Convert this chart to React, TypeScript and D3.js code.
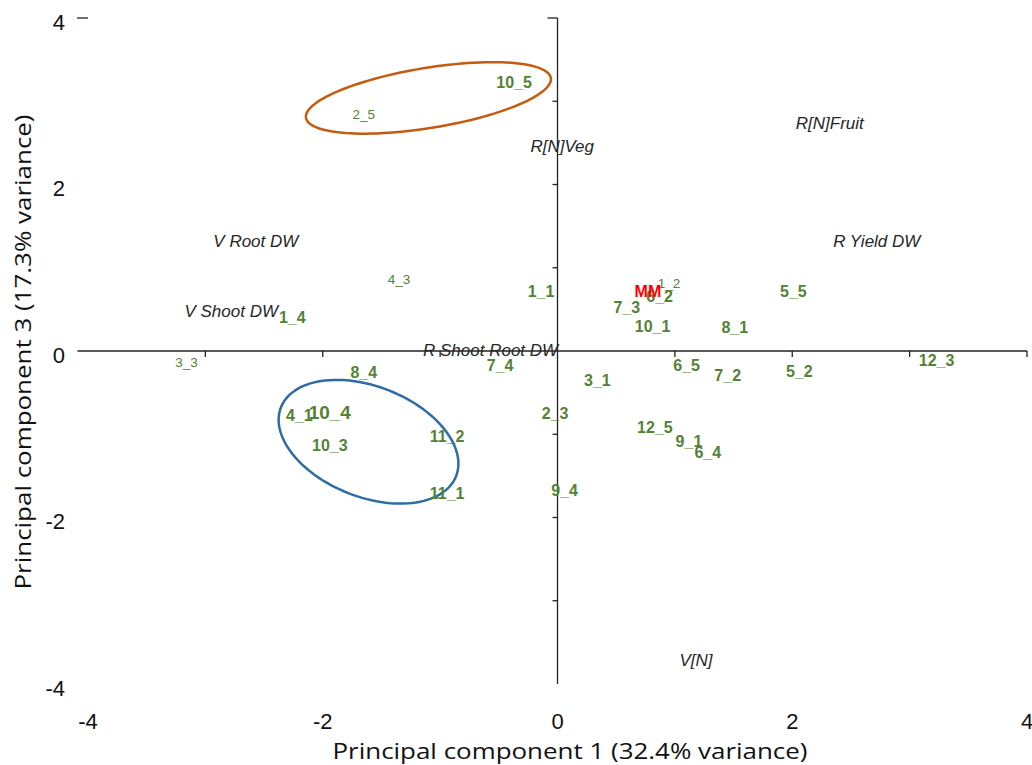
import * as d3 from "d3";

// sample scores (PC1, PC3)
const sampleIds = [
  "10_5", "2_5", "4_3", "1_1", "1_4", "3_3", "8_4", "7_4", "3_1", "4_1",
  "10_4", "10_3", "11_2", "11_1", "2_3", "9_4", "1_2", "6_2", "7_3", "10_1",
  "8_1", "5_5", "6_5", "7_2", "5_2", "12_3", "12_5", "9_1", "6_4",
];
const samplePc1 = [
  -0.37, -1.65, -1.35, -0.14, -2.26, -3.16, -1.65, -0.49, 0.34, -2.2,
  -1.94, -1.94, -0.94, -0.94, -0.02, 0.06, 0.95, 0.87, 0.59, 0.81,
  1.51, 2.01, 1.1, 1.45, 2.06, 3.23, 0.83, 1.12, 1.28,
];
const samplePc3 = [
  3.22, 2.84, 0.86, 0.72, 0.4, -0.14, -0.26, -0.18, -0.35, -0.78,
  -0.74, -1.13, -1.03, -1.71, -0.75, -1.68, 0.81, 0.65, 0.52, 0.29,
  0.28, 0.72, -0.18, -0.3, -0.25, -0.12, -0.92, -1.09, -1.22,
];
// label class: 0 small, 1 normal, 2 large
const sampleClass = [
  1, 0, 0, 1, 1, 0, 1, 1, 1, 1,
  2, 1, 1, 1, 1, 1, 0, 1, 1, 1,
  1, 1, 1, 1, 1, 1, 1, 1, 1,
];

const refIds = ["MM"];
const refPc1 = [0.77];
const refPc3 = [0.71];

// variable loadings
const varNames = ["R[N]Veg", "R[N]Fruit", "V Root DW", "R Yield DW", "V Shoot DW", "R Shoot Root DW", "V[N]"];
const varPc1 = [0.04, 2.32, -2.57, 2.72, -2.78, -0.57, 1.18];
const varPc3 = [2.46, 2.73, 1.32, 1.32, 0.48, 0.01, -3.72];

// group ellipses: centre, major and minor half-axis vectors (data units)
const ellipseCx = [-1.1, -1.61];
const ellipseCy = [3.04, -1.09];
const ellipseU = [[1.043, 0.24], [0.746, -0.414]];
const ellipseV = [[0.043, -0.356], [-0.173, -0.617]];
const ellipseColors = ["#c55a11", "#2e6ca4"];

const xTicks = [-4, -2, 0, 2, 4];
const yTicks = [4, 2, 0, -2, -4];
const xMinor = [-3, -2, -1, 1, 2, 3, 4];
const yMinor = [3, 2, 1, -1, -2, -3];

const width = 1032;
const height = 765;

export default function App() {
  const x = d3.scaleLinear([-4, 4], [88, 1027]);
  const y = d3.scaleLinear([-4, 4], [684, 18]);
  const fontSize = d3.scaleOrdinal<number, number>([0, 1, 2], [13.5, 16, 19]);
  const fontWeight = d3.scaleOrdinal<number, string>([0, 1, 2], ["normal", "bold", "bold"]);

  const line = d3
    .line<[number, number]>()
    .x((d) => x(d[0]))
    .y((d) => y(d[1]))
    .curve(d3.curveLinearClosed);

  const ellipsePath = (i: number) => {
    const pts: [number, number][] = d3.range(120).map((k) => {
      const t = (k / 120) * Math.PI * 2;
      return [
        ellipseCx[i] + Math.cos(t) * ellipseU[i][0] + Math.sin(t) * ellipseV[i][0],
        ellipseCy[i] + Math.cos(t) * ellipseU[i][1] + Math.sin(t) * ellipseV[i][1],
      ];
    });
    return line(pts) || "";
  };

  const font = "'Liberation Sans', Arial, sans-serif";

  return (
    <svg
      width={width}
      height={height}
      style={{ position: "absolute", left: 0, top: 0, background: "#fff" }}
      fontFamily={font}
    >
      {/* axes through origin */}
      <g stroke="#222" strokeWidth={1.3}>
        <line x1={x(-4.09)} x2={x(4)} y1={y(0)} y2={y(0)} />
        <line x1={x(0)} x2={x(0)} y1={y(4)} y2={y(-4)} />
        {xMinor.map((t) => (
          <line key={"xm" + t} x1={x(t)} x2={x(t)} y1={y(0)} y2={y(0) + 6} />
        ))}
        {yMinor.map((t) => (
          <line key={"ym" + t} x1={x(0) - 5} x2={x(0)} y1={y(t)} y2={y(t)} />
        ))}
        <line x1={x(0) - 10} x2={x(0)} y1={y(4)} y2={y(4)} />
        <line x1={77} x2={88} y1={y(4)} y2={y(4)} />
      </g>

      {/* tick labels */}
      <g fontSize={22} fill="#111">
        {yTicks.map((t) => (
          <text key={"yt" + t} x={65} y={y(t) + 4} textAnchor="end" dominantBaseline="central">
            {t}
          </text>
        ))}
        {xTicks.map((t) => (
          <text key={"xt" + t} x={x(t)} y={721} textAnchor="middle" dominantBaseline="central">
            {t}
          </text>
        ))}
      </g>

      {/* axis titles */}
      <text
        x={570}
        y={750}
        textAnchor="middle"
        dominantBaseline="central"
        fontFamily="'Open Sans', sans-serif"
        fontSize={22}
        fill="#111"
        textLength={475}
        lengthAdjust="spacingAndGlyphs"
      >
        Principal component 1 (32.4% variance)
      </text>
      <text
        transform={`translate(22,352) rotate(-90)`}
        textAnchor="middle"
        dominantBaseline="central"
        fontFamily="'Open Sans', sans-serif"
        fontSize={22}
        fill="#111"
        textLength={475}
        lengthAdjust="spacingAndGlyphs"
      >
        Principal component 3 (17.3% variance)
      </text>

      {/* ellipses */}
      {ellipseColors.map((c, i) => (
        <path key={"el" + i} d={ellipsePath(i)} fill="none" stroke={c} strokeWidth={2.5} />
      ))}

      {/* loadings */}
      <g fontSize={17} fontStyle="italic" fill="#262626">
        {varNames.map((n, i) => (
          <text key={n} x={x(varPc1[i])} y={y(varPc3[i])} textAnchor="middle" dominantBaseline="central">
            {n}
          </text>
        ))}
      </g>

      {/* samples */}
      <g fill="#548235">
        {sampleIds.map((s, i) => (
          <text
            key={s}
            x={x(samplePc1[i])}
            y={y(samplePc3[i])}
            textAnchor="middle"
            dominantBaseline="central"
            fontSize={fontSize(sampleClass[i])}
            fontWeight={fontWeight(sampleClass[i])}
          >
            {s}
          </text>
        ))}
      </g>
      <g fill="#ff0000" fontWeight="bold" fontSize={16}>
        {refIds.map((s, i) => (
          <text key={s} x={x(refPc1[i])} y={y(refPc3[i])} textAnchor="middle" dominantBaseline="central">
            {s}
          </text>
        ))}
      </g>
    </svg>
  );
}
